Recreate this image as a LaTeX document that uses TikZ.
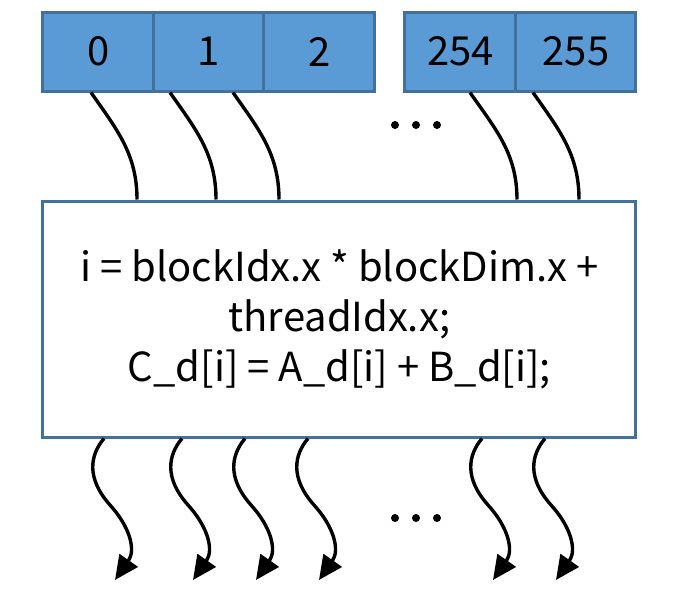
\documentclass[tikz,border=0pt]{standalone}
\usepackage{fontspec}
\setmainfont{Noto Sans CJK SC}
\usetikzlibrary{arrows.meta}
\definecolor{cellfill}{HTML}{5B9BD5}
\definecolor{celledge}{HTML}{41719C}

\begin{document}
\begin{tikzpicture}[x=0.5pt,y=-0.5pt,>={Triangle[length=12pt,width=11pt]},
  cell/.style={draw=celledge,fill=cellfill,line width=1.5pt,minimum height=39.5pt,
    inner sep=0pt,font=\fontsize{20}{22}\selectfont},
  thread/.style={line width=1.7pt}]
  \useasboundingbox (0,0) rectangle (677,590);
  % thread blocks
  \node[cell,minimum width=55.5pt] (c0) at (98.5,51.5) {0};
  \node[cell,minimum width=55pt] (c1) at (209,51.5) {1};
  \node[cell,minimum width=55.5pt] (c2) at (319.5,51.5) {2};
  \node[cell,minimum width=55.5pt] (c254) at (460.5,51.5) {254};
  \node[cell,minimum width=60pt] (c255) at (576,51.5) {255};
  % kernel
  \node[draw=celledge,line width=1.5pt,minimum width=296.5pt,minimum height=118pt,
    align=center,font=\fontsize{20}{25}\selectfont] (kernel) at (339.5,319)
    {i = blockIdx.x * blockDim.x +\\ threadIdx.x;\\ C\_d[i] = A\_d[i] + B\_d[i];};
  \foreach \c/\s/\e in {c0/91/137,c1/170/216,c2/233/279,c254/470/517,c255/533/579}
    \draw[thread] (\s,0 |- \c.south) to[out=-55,in=90] (\e,0 |- kernel.north);
  \foreach \x in {104,182,245,308,482,545}
    \draw[thread,->] (\x,0 |- kernel.south) .. controls (\x-14,455) and (\x-18,478) .. (\x+6,505)
      .. controls (\x+26,527) and (\x+32,550) .. (\x+11,580);
  \foreach \d in {395,416,437} {
    \fill (\d,125) circle (4);
    \fill (\d,518) circle (4);
  }
\end{tikzpicture}
\end{document}
